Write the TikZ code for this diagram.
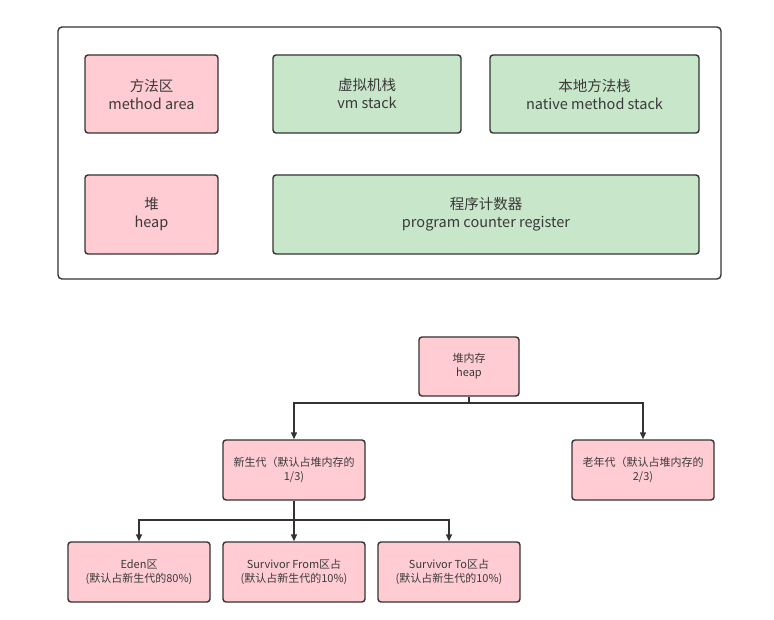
\documentclass[tikz,border=0pt]{standalone}
\usepackage{fontspec}
\setmainfont{Noto Sans CJK SC}
\usetikzlibrary{arrows.meta}
\definecolor{pinkfill}{HTML}{FFCCD3}
\definecolor{greenfill}{HTML}{C8E6C9}
\definecolor{edge}{HTML}{333333}
\definecolor{txt}{HTML}{3A3A3A}
\tikzset{
  box/.style={draw=edge, line width=1.4pt, rounded corners=3pt, inner sep=0pt, align=center, text=txt},
  bigbox/.style={box, font=\fontsize{14.5}{18}\selectfont},
  smallbox/.style={box, font=\fontsize{11}{14}\selectfont},
  pinkbox/.style={fill=pinkfill},
  greenbox/.style={fill=greenfill},
  conn/.style={draw=edge, line width=1.4pt, -{Triangle[length=7pt,width=6pt]}},
  plain/.style={draw=edge, line width=1.4pt}
}
\newcommand{\mkbox}[6]{% name, style, x1, y1, x2, y2
  \node[#2, minimum width={(#5-#3)*1pt}, minimum height={(#6-#4)*1pt}] (#1) at ({(#3+#5)/2*1pt},{-(#4+#6)/2*1pt})}
\begin{document}
\begin{tikzpicture}[x=1pt,y=1pt]
\useasboundingbox (0,0) rectangle (774,-620);
\fill[white] (0,0) rectangle (774,-620);
% outer frame
\node[draw=edge, line width=1.4pt, rounded corners=4pt, minimum width=663pt, minimum height=252pt, inner sep=0pt] (frame) at (389.5,-153) {};
\mkbox{ma}{bigbox,pinkbox}{85}{55}{218}{133}{方法区\\method area};
\mkbox{vm}{bigbox,greenbox}{273}{55}{461}{133}{虚拟机栈\\vm stack};
\mkbox{ns}{bigbox,greenbox}{490}{55}{699}{133}{本地方法栈\\native method stack};
\mkbox{hp}{bigbox,pinkbox}{85}{175}{218}{254}{堆\\heap};
\mkbox{pc}{bigbox,greenbox}{273}{175}{699}{254}{程序计数器\\program counter register};
% tree
\mkbox{heapmem}{smallbox,pinkbox}{419}{337}{519}{396}{堆内存\\heap};
\mkbox{young}{smallbox,pinkbox}{223}{440}{365}{500}{新生代（默认占堆内存的\\1/3)};
\mkbox{old}{smallbox,pinkbox}{572}{440}{714}{500}{老年代（默认占堆内存的\\2/3)};
\mkbox{eden}{smallbox,pinkbox}{68}{542}{210}{602}{Eden区\\(默认占新生代的80\%)};
\mkbox{from}{smallbox,pinkbox}{223}{542}{365}{602}{Survivor From区占\\(默认占新生代的10\%)};
\mkbox{to}{smallbox,pinkbox}{378}{542}{520}{602}{Survivor To区占\\(默认占新生代的10\%)};
\coordinate (j1) at (469,-403);
\coordinate (j2) at (294,-520);
\draw[plain] (heapmem.south) -- (j1);
\draw[conn] (j1) -| (young.north);
\draw[conn] (j1) -| (old.north);
\draw[plain] (young.south) -- (j2);
\draw[conn] (j2) -| (eden.north);
\draw[conn] (j2) -- (from.north);
\draw[conn] (j2) -| (to.north);
\end{tikzpicture}
\end{document}
